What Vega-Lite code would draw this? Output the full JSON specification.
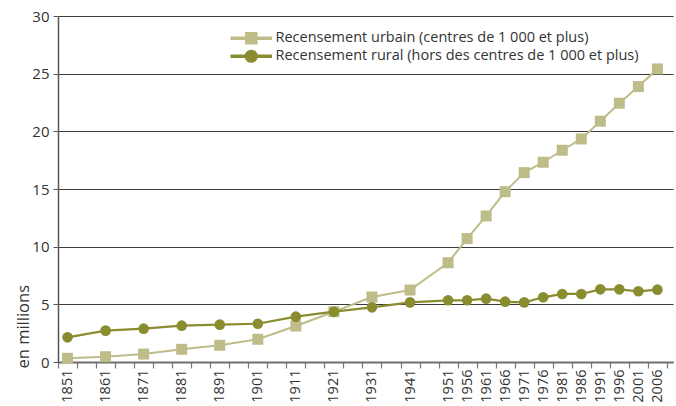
{
  "$schema": "https://vega.github.io/schema/vega-lite/v6.json",
  "width": 615,
  "height": 346,
  "autosize": {"type": "none"},
  "padding": {"left": 58, "top": 16, "right": 3, "bottom": 44},
  "background": "white",
  "config": {
    "view": {"stroke": null},
    "font": "Open Sans",
    "axis": {"labelFont": "Open Sans", "titleFont": "Open Sans", "labelColor": "#333333", "titleColor": "#333333"},
    "legend": {"labelFont": "Open Sans"}
  },
  "data": {
    "values": [
      {"annee": 1851, "valeur": 0.32, "serie": "Recensement urbain (centres de 1 000 et plus)"},
      {"annee": 1861, "valeur": 0.46, "serie": "Recensement urbain (centres de 1 000 et plus)"},
      {"annee": 1871, "valeur": 0.69, "serie": "Recensement urbain (centres de 1 000 et plus)"},
      {"annee": 1881, "valeur": 1.10, "serie": "Recensement urbain (centres de 1 000 et plus)"},
      {"annee": 1891, "valeur": 1.45, "serie": "Recensement urbain (centres de 1 000 et plus)"},
      {"annee": 1901, "valeur": 1.97, "serie": "Recensement urbain (centres de 1 000 et plus)"},
      {"annee": 1911, "valeur": 3.12, "serie": "Recensement urbain (centres de 1 000 et plus)"},
      {"annee": 1921, "valeur": 4.36, "serie": "Recensement urbain (centres de 1 000 et plus)"},
      {"annee": 1931, "valeur": 5.64, "serie": "Recensement urbain (centres de 1 000 et plus)"},
      {"annee": 1941, "valeur": 6.24, "serie": "Recensement urbain (centres de 1 000 et plus)"},
      {"annee": 1951, "valeur": 8.61, "serie": "Recensement urbain (centres de 1 000 et plus)"},
      {"annee": 1956, "valeur": 10.70, "serie": "Recensement urbain (centres de 1 000 et plus)"},
      {"annee": 1961, "valeur": 12.66, "serie": "Recensement urbain (centres de 1 000 et plus)"},
      {"annee": 1966, "valeur": 14.77, "serie": "Recensement urbain (centres de 1 000 et plus)"},
      {"annee": 1971, "valeur": 16.42, "serie": "Recensement urbain (centres de 1 000 et plus)"},
      {"annee": 1976, "valeur": 17.32, "serie": "Recensement urbain (centres de 1 000 et plus)"},
      {"annee": 1981, "valeur": 18.36, "serie": "Recensement urbain (centres de 1 000 et plus)"},
      {"annee": 1986, "valeur": 19.34, "serie": "Recensement urbain (centres de 1 000 et plus)"},
      {"annee": 1991, "valeur": 20.88, "serie": "Recensement urbain (centres de 1 000 et plus)"},
      {"annee": 1996, "valeur": 22.44, "serie": "Recensement urbain (centres de 1 000 et plus)"},
      {"annee": 2001, "valeur": 23.88, "serie": "Recensement urbain (centres de 1 000 et plus)"},
      {"annee": 2006, "valeur": 25.41, "serie": "Recensement urbain (centres de 1 000 et plus)"},
      {"annee": 1851, "valeur": 2.14, "serie": "Recensement rural (hors des centres de 1 000 et plus)"},
      {"annee": 1861, "valeur": 2.72, "serie": "Recensement rural (hors des centres de 1 000 et plus)"},
      {"annee": 1871, "valeur": 2.89, "serie": "Recensement rural (hors des centres de 1 000 et plus)"},
      {"annee": 1881, "valeur": 3.15, "serie": "Recensement rural (hors des centres de 1 000 et plus)"},
      {"annee": 1891, "valeur": 3.24, "serie": "Recensement rural (hors des centres de 1 000 et plus)"},
      {"annee": 1901, "valeur": 3.32, "serie": "Recensement rural (hors des centres de 1 000 et plus)"},
      {"annee": 1911, "valeur": 3.93, "serie": "Recensement rural (hors des centres de 1 000 et plus)"},
      {"annee": 1921, "valeur": 4.36, "serie": "Recensement rural (hors des centres de 1 000 et plus)"},
      {"annee": 1931, "valeur": 4.74, "serie": "Recensement rural (hors des centres de 1 000 et plus)"},
      {"annee": 1941, "valeur": 5.17, "serie": "Recensement rural (hors des centres de 1 000 et plus)"},
      {"annee": 1951, "valeur": 5.35, "serie": "Recensement rural (hors des centres de 1 000 et plus)"},
      {"annee": 1956, "valeur": 5.35, "serie": "Recensement rural (hors des centres de 1 000 et plus)"},
      {"annee": 1961, "valeur": 5.49, "serie": "Recensement rural (hors des centres de 1 000 et plus)"},
      {"annee": 1966, "valeur": 5.23, "serie": "Recensement rural (hors des centres de 1 000 et plus)"},
      {"annee": 1971, "valeur": 5.17, "serie": "Recensement rural (hors des centres de 1 000 et plus)"},
      {"annee": 1976, "valeur": 5.61, "serie": "Recensement rural (hors des centres de 1 000 et plus)"},
      {"annee": 1981, "valeur": 5.90, "serie": "Recensement rural (hors des centres de 1 000 et plus)"},
      {"annee": 1986, "valeur": 5.90, "serie": "Recensement rural (hors des centres de 1 000 et plus)"},
      {"annee": 1991, "valeur": 6.30, "serie": "Recensement rural (hors des centres de 1 000 et plus)"},
      {"annee": 1996, "valeur": 6.30, "serie": "Recensement rural (hors des centres de 1 000 et plus)"},
      {"annee": 2001, "valeur": 6.13, "serie": "Recensement rural (hors des centres de 1 000 et plus)"},
      {"annee": 2006, "valeur": 6.27, "serie": "Recensement rural (hors des centres de 1 000 et plus)"}
    ]
  },
  "encoding": {
    "x": {
      "field": "annee",
      "type": "quantitative",
      "scale": {"domain": [1848.5, 2010.1], "nice": false, "zero": false},
      "axis": {
        "title": null,
        "grid": false,
        "values": [1848.5, 1853.5, 1858.5, 1863.5, 1868.5, 1873.5, 1878.5, 1883.5, 1888.5, 1893.5, 1898.5, 1903.5, 1908.5, 1913.5, 1918.5, 1923.5, 1928.5, 1933.5, 1938.5, 1943.5, 1948.5, 1953.5, 1958.5, 1963.5, 1968.5, 1973.5, 1978.5, 1983.5, 1988.5, 1993.5, 1998.5, 2003.5, 2008.5],
        "labelExpr": "indexof([1851,1861,1871,1881,1891,1901,1911,1921,1931,1941,1951,1956,1961,1966,1971,1976,1981,1986,1991,1996,2001,2006], datum.value + 2.5) >= 0 ? '' + (datum.value + 2.5) : ''",
        "labelOffset": 9.5,
        "labelAngle": 270,
        "labelAlign": "right",
        "labelBaseline": "middle",
        "labelFontSize": 14.5,
        "labelPadding": 1,
        "labelOverlap": false,
        "labelFlush": false,
        "labelBound": false,
        "tickSize": 6,
        "tickColor": "#777777",
        "tickWidth": 1.2,
        "domainColor": "#6e6e6e",
        "domainWidth": 1.8
      }
    },
    "y": {
      "field": "valeur",
      "type": "quantitative",
      "scale": {"domain": [0, 30], "nice": false},
      "axis": {
        "title": "en millions",
        "titleFontSize": 16.5,
        "titleFontWeight": "normal",
        "titleAngle": 270,
        "titleAlign": "left",
        "titleBaseline": "alphabetic",
        "titleX": -30,
        "titleY": 352,
        "values": [0, 5, 10, 15, 20, 25, 30],
        "labelFontSize": 15,
        "labelPadding": 4,
        "tickSize": 5,
        "tickColor": "#555555",
        "domainColor": "#555555",
        "domainWidth": 1.5,
        "grid": true,
        "gridColor": "#3a3a3a",
        "gridWidth": 1.2
      }
    },
    "color": {
      "field": "serie",
      "type": "nominal",
      "scale": {
        "domain": ["Recensement urbain (centres de 1 000 et plus)", "Recensement rural (hors des centres de 1 000 et plus)"],
        "range": ["#bebd89", "#8a8c30"]
      },
      "legend": {
        "title": null,
        "orient": "none",
        "legendX": 172,
        "legendY": 15,
        "padding": 0,
        "symbolSize": 144,
        "symbolOpacity": 1,
        "labelOffset": 31,
        "labelFontSize": 14.5,
        "labelColor": "#333333",
        "labelLimit": 500,
        "rowPadding": 0
      }
    }
  },
  "layer": [
    {
      "transform": [{"filter": "datum.serie == 'Recensement urbain (centres de 1 000 et plus)'"}],
      "mark": {"type": "line", "strokeWidth": 2}
    },
    {
      "transform": [{"filter": "datum.serie == 'Recensement urbain (centres de 1 000 et plus)'"}],
      "mark": {"type": "point", "shape": "square", "filled": true, "opacity": 1, "size": 121}
    },
    {
      "transform": [{"filter": "datum.serie == 'Recensement rural (hors des centres de 1 000 et plus)'"}],
      "mark": {"type": "line", "strokeWidth": 2.2}
    },
    {
      "transform": [{"filter": "datum.serie == 'Recensement rural (hors des centres de 1 000 et plus)'"}],
      "mark": {"type": "point", "shape": "circle", "filled": true, "opacity": 1, "size": 113}
    },
    {
      "mark": {"type": "point", "filled": true, "size": 144, "opacity": 0},
      "encoding": {
        "shape": {
          "field": "serie",
          "type": "nominal",
          "scale": {
            "domain": ["Recensement urbain (centres de 1 000 et plus)", "Recensement rural (hors des centres de 1 000 et plus)"],
            "range": ["M-1,-0.17H5.67V0.17H-1Z M1.41,-0.92H3.25V0.92H1.41Z", "M-1,-0.17H5.67V0.17H-1Z M3.3,0A0.97,0.97 0 1,1 1.36,0A0.97,0.97 0 1,1 3.3,0Z"]
          },
          "legend": {
            "title": null,
            "orient": "none",
            "legendX": 172,
            "legendY": 15,
            "padding": 0,
            "symbolSize": 144,
            "symbolOpacity": 1,
            "labelOffset": 31,
            "labelFontSize": 14.5,
            "labelColor": "#333333",
            "labelLimit": 500,
            "rowPadding": 0
          }
        }
      }
    }
  ]
}
